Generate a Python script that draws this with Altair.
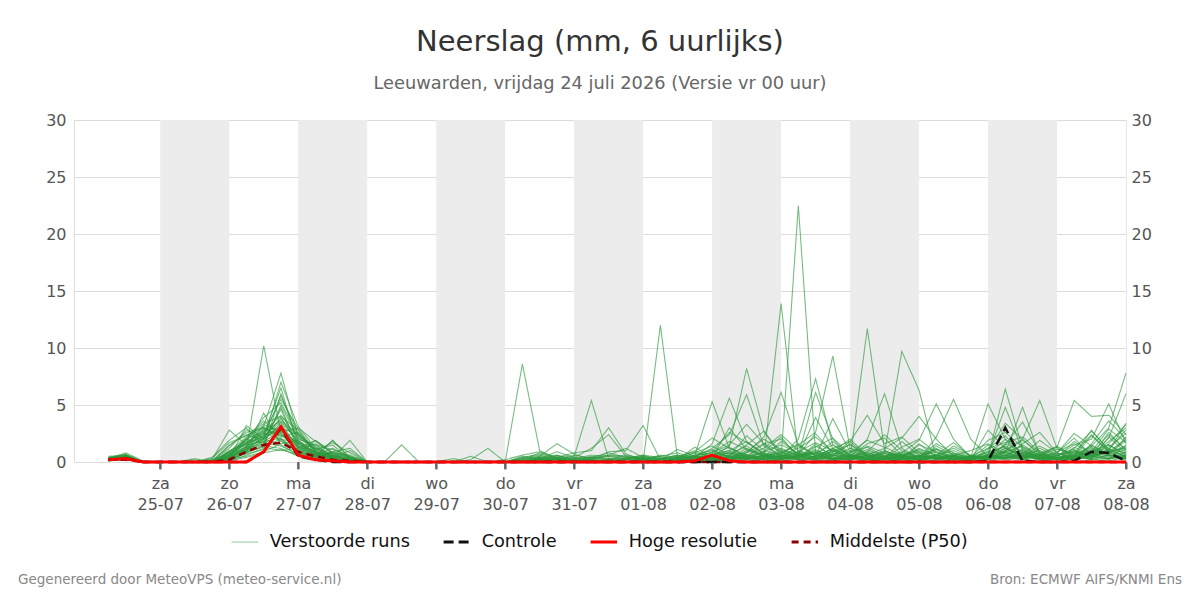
import altair as alt
import pandas as pd

# ---------------- data ----------------
# 6-hourly steps, first step 24-07-2026 06:00 UTC, 60 steps up to 08-08-2026 00:00
start = pd.Timestamp("2026-07-24T06:00:00Z")
n_steps = 60
times = [(start + pd.Timedelta(hours=6 * i)).strftime("%Y-%m-%dT%H:%M:%SZ") for i in range(n_steps)]

series_names = ["Verstoorde runs", "Controle", "Hoge resolutie", "Middelste (P50)"]

# perturbed ensemble members (mm per 6 h), 60 values each (4 blocks of 15)
m01 = [0.3,0.5,0,0,0,0,0,0.4,1.2,10.2,2.5,1.0,0.4,0.1,0] + [0,0,0,0,0,0,0,0,0,0.3,0.5,0.2,0,0.1,0] + [0,0,0.3,0,0.5,1.1,0.4,0.2,0,0.6,0.3,0.2,0,0,0.1] + [0,0.3,0,0,0.2,0,0.4,0.8,0.2,0,0.3,0.6,0.2,0.1,0.4]
m02 = [0.2,0.3,0,0,0,0,0.1,0.6,2.0,3.1,7.8,2.2,1.0,0.5,0.2] + [0,0,0,0,0,0,0,0,0,8.6,1.0,0.3,0.2,0,0] + [0,0,0.2,0.5,0.3,0.2,0,0.4,0,0.3,22.5,0.8,0.2,0,0] + [0.3,0,0.5,1.1,0.3,0.2,0,0,0.8,0.5,0.3,0,0.2,0.6,0.3]
m03 = [0.4,0.6,0,0,0,0,0.2,2.8,1.5,1.8,2.1,0.8,0.3,0,0] + [0,0,0,0,0,0,0.2,1.2,0,0,0.4,0.2,0,0,0] + [0.2,0,0,0.3,0.8,0.4,0.2,1.0,0.5,0,0.6,3.9,1.2,0.4,0] + [0.2,0.8,0.4,0,0,0.3,0.6,1.2,0.5,0.2,0,0.4,1.0,0.8,0.3]
m04 = [0.2,0.4,0,0,0,0,0,0.3,3.2,2.0,7.0,3.1,1.2,0.6,0.1] + [0,0,0,0,0,0,0,0,0,0.2,0.8,0.4,0,0,0.3] + [0.5,0.2,0,0,0,0.6,1.3,0.5,0.2,0.8,1.6,0.5,3.8,0.9,0.2] + [0,0.2,0.6,0.3,0.5,0,0.2,0.9,0.3,0,0.6,0.2,0.4,1.5,0.6]
m05 = [0.3,0.8,0.1,0,0,0,0,0.8,1.0,4.3,1.5,0.6,1.9,0.8,0.3] + [0,0,1.5,0,0,0,0,0,0,0,0.3,0.6,0.2,0,0] + [0,0.4,0,0,0.2,0.3,0,0.8,1.6,0.4,0.2,0,0.6,1.8,0.5] + [0.3,0,0.2,1.4,0.6,0.2,0,0.3,1.0,0.4,0.8,2.1,0.5,0.2,0.9]
m06 = [0.2,0.2,0,0,0,0,0,0.1,0.6,1.2,6.0,1.8,0.5,1.9,0.4] + [0,0,0,0,0,0,0,0,0,0.4,0.2,0,0,0,0] + [0,0,0,0.2,0.1,0,0.5,0.3,0.9,2.2,0.4,1.1,0.3,0.5,2.0] + [6.0,1.2,0.3,0,0.2,0.5,0.3,0.6,0.2,0,0.4,0.3,0.8,2.4,1.1]
m07 = [0.1,0.3,0,0,0,0,0,0.5,1.8,2.5,5.5,2.9,0.9,0.4,1.9] + [0,0,0,0,0,0,0,0,0,0,0,0.3,0.5,5.4,0.3] + [0,0,0,0.3,0.5,0.2,0,0,0.4,0.2,0.5,1.4,0.6,0.2,0.8] + [0.4,0.2,1.6,0.4,0.3,0.1,1.2,2.3,0.6,0.3,0.2,0.6,1.3,0.4,0.2]
m08 = [0.5,0.6,0,0,0,0.3,0,0.9,2.2,3.6,2.4,1.3,0.7,0.2,0] + [0,0,0,0,0,0,0.5,0,0,0,0.2,0.4,0,0,0] + [0,0,0,0,0,0.2,0.4,0.3,0.2,0.5,0.9,0.6,1.8,0.5,0.3] + [0.8,9.7,6.3,0.3,0,0.2,0.5,0.2,0.4,0.6,1.4,0.5,0.2,0.3,0.5]
m09 = [0.2,0.4,0,0,0,0,0,0.2,0.8,1.5,5.0,2.0,1.5,1.1,0.5] + [0,0,0,0,0,0,0,0,0,0,0.3,0.9,0.4,0.1,0] + [0,0,0,0.4,1.0,0.3,0.2,0.6,0.3,0.1,0,0.5,0.9,2.0,0.6] + [1.2,2.1,4.0,2.0,0.5,0.2,0,0.6,1.1,0.4,0.3,0.8,0.5,2.6,1.0]
m10 = [0.3,0.3,0,0,0,0,0.1,1.4,2.6,3.0,1.8,0.9,0.4,0.8,0.6] + [0,0,0,0,0,0.3,0,0,0,0,0.1,0.2,0,0.4,0.2] + [0,0.2,0,0,0.3,0.5,0.8,0.2,0.4,1.2,0.6,0.3,0.2,0.4,1.1] + [0.5,0.8,1.9,5.1,2.0,0.4,0.2,0.4,0.6,1.0,0.3,0.2,1.5,0.6,0.3]
m11 = [0.4,0.5,0,0,0,0,0,0.3,1.1,2.2,3.8,1.6,0.8,0.3,0.1] + [0,0,0,0,0,0,0,0,0,0,0.5,1.6,0.7,0.2,0] + [0,0,0,0.2,0.4,0.1,0.3,0.5,0.2,0,0.4,0.8,0.3,0.6,0.2] + [0.3,0.6,0.2,2.2,5.5,2.0,0.5,0.3,0.8,0.2,0.6,1.1,0.4,0.9,2.0]
m12 = [0.2,0.6,0,0,0,0.2,0,0.6,1.6,2.8,3.0,2.4,1.1,1.5,0.2] + [0,0,0,0,0,0,0,0,0,0,0,0.4,0.8,1.0,3.0] + [0.7,0.2,0,0,0,0.4,0.6,1.4,0.5,0.3,0.8,0.4,0.2,0.3,0.5] + [0.2,0.4,0.3,0.6,1.0,0.4,5.1,2.0,0.3,0.5,0.2,0.6,0.3,1.2,0.4]
m13 = [0.3,0.4,0,0,0,0,0.4,1.9,3.0,1.4,1.2,0.5,0.3,0.1,0] + [0,0,0,0,0,0,0,0,0,0.1,0.2,0,0.1,0.3,0.6] + [1.2,0.4,0,0.3,0.2,0,0.2,0.5,0.8,0.3,0.5,0.2,0.1,0.3,1.4] + [0.8,0.3,0.2,0.1,0.4,0.2,2.8,1.2,0.5,0.3,0.4,1.8,0.8,0.3,0.6]
m14 = [0.2,0.3,0,0,0,0,0,0.2,0.9,2.0,4.6,1.1,0.6,0.9,1.2] + [0,0,0,0,0,0,0,0,0,0,0,0,0,0.2,0.9] + [1.0,3.2,0.2,0,0.5,0.3,0.2,0.4,0.2,0.5,0.3,1.6,0.4,0.2,0.3] + [0.4,0.5,0.2,0.6,0.3,0.2,0.5,6.4,1.2,0.4,0.3,0.5,2.3,0.9,0.4]
m15 = [0.3,0.5,0,0,0,0,0,0.7,1.3,3.3,2.6,3.0,1.8,0.7,0.2] + [0,0,0,0,0,0,0,0,0,0,0,0,0.4,1.2,2.4] + [0.5,0.3,0,0,0.2,0.6,1.0,0.3,0.5,0.2,0.6,2.5,0.8,0.4,0.2] + [0.3,0.2,0.5,1.2,0.4,0.3,0.6,4.8,1.0,0.5,0.2,0.4,0.6,1.8,3.0]
m16 = [0.1,0.2,0,0,0,0,0,0.4,2.0,1.7,1.4,0.7,0.2,0.1,0] + [0,0,0,0,0,0,0,0,0,0,0,0.3,0,0,0] + [0,0,12.0,0.3,0,0.2,0.4,0.2,0.6,0.3,0.2,0.5,1.2,0.6,0.3] + [0.2,0.6,1.0,0.4,0.2,0.5,0.3,0.8,4.8,0.6,0.4,0.3,0.6,0.3,1.5]
m17 = [0.3,0.7,0,0,0,0,0,1.0,1.5,2.4,6.5,1.4,0.9,0.5,0.3] + [0,0,0,0,0,0,0,0,0,0.5,0.3,0,0,0,0] + [0,0,0.2,0.4,0.6,5.3,1.2,0.4,0.2,0.6,0.5,0.2,0.8,0.3,0.6] + [0.5,0.3,0.6,0.2,0.4,0.2,0.6,1.5,3.5,0.8,0.2,0.5,0.3,2.2,0.8]
m18 = [0.2,0.4,0,0,0,0,0.2,0.5,1.0,2.9,2.2,2.6,1.0,1.7,0.8] + [0,0,0,0,0,0,0,0,0,0,0,0,0.2,0.4,0.2] + [0.3,0.2,0.5,0.8,0.4,1.6,5.6,1.8,0.6,0.3,0.5,0.3,1.0,0.4,0.2] + [0.3,1.8,0.6,0.2,0.5,0.3,0.2,1.0,2.0,5.4,1.2,0.4,0.8,0.5,0.3]
m19 = [0.4,0.3,0,0,0,0,0,1.5,2.4,1.9,3.4,1.2,0.5,0.2,0] + [0,0,0,0,0,0,0,0,0,0,0,0,0,0,0.2] + [0.2,0.5,0.3,0.2,1.3,0.4,3.0,1.1,0.5,0.2,0.6,0.8,0.3,0.2,0.4] + [1.0,0.4,0.2,0.3,0.6,0.4,0.2,0.5,1.6,2.6,0.8,0.3,1.1,0.6,2.2]
m20 = [0.2,0.5,0,0,0,0,0,0.3,0.7,1.1,2.8,0.5,0.2,0.1,0] + [0,0,0,0,0,0,0,0,0,0,0,0,0,0,0] + [0,0,0,0.4,0.3,0.5,1.4,8.2,2.7,0.5,0.2,0.3,0.6,0.4,0.2] + [0.2,0.5,0.3,0.6,0.2,0.3,0.5,0.4,0.2,0.6,1.3,5.4,4.0,4.1,2.4]
m21 = [0.3,0.6,0,0,0,0,0,0.9,1.9,3.9,5.2,2.3,1.4,0.6,0.1] + [0,0,0,0,0,0,0,0,0,0.2,0.4,0.1,0,0,0] + [0,0,0,0.2,0.5,1.2,2.4,5.9,1.4,0.6,0.3,0.2,0.5,1.6,0.4] + [0.3,0.2,0.6,0.4,0.2,0.6,0.3,1.2,0.5,0.2,0.4,0.6,2.8,1.0,3.4]
m22 = [0.2,0.3,0,0,0,0,0,0.2,0.5,0.9,1.6,1.9,0.8,0.4,1.0] + [0,0,0,0,0,0,0,0,0,0,0.2,0,0,0,0] + [0,0.3,0,0.2,0.6,0.8,1.5,3.3,1.6,2.0,0.6,0.4,0.3,0.2,0.6] + [0.4,0.3,0.2,0.5,0.6,0.2,0.4,0.6,0.3,1.2,0.5,1.5,2.0,5.1,1.6]
m23 = [0.3,0.4,0,0,0,0,0.1,1.2,2.8,2.1,3.0,1.5,0.6,1.2,0.4] + [0,0,0,0,0,0,0,0,0,0,0,0,0.3,0.6,0.5] + [0.3,0.5,0.2,1.1,0.5,0.3,0.6,1.5,2.7,0.8,0.3,0.5,0.2,0.6,0.3] + [0.5,0.2,0.4,0.3,1.4,0.6,0.3,0.9,0.4,0.6,0.3,0.2,1.6,3.6,2.0]
m24 = [0.1,0.3,0,0,0,0,0,0.3,1.4,2.6,1.9,1.0,1.6,0.3,0] + [0,0,0,0,0,0,0,0,0,0,0,0,0,0,0] + [0,0,0,0,0.2,0.4,0.3,0.6,0.3,13.9,0.4,0.8,0.5,0.2,0.6] + [0.3,0.2,0.5,0.3,0.6,0.2,0.4,0.6,0.3,0.5,0.8,2.5,1.4,3.0,7.8]
m25 = [0.3,0.5,0,0,0,0,0,0.6,2.1,3.4,4.0,2.8,0.7,0.2,0.1] + [0,0,0,0,0,0,0,0,0,0,0,0,0,0,0.1] + [0.2,0.3,0,0.2,0.4,0.6,0.3,0.8,2.2,6.1,1.5,0.6,0.3,0.4,0.2] + [0.5,0.6,0.2,0.4,0.3,0.2,0.6,0.4,0.8,0.3,0.6,1.0,0.5,2.1,6.0]
m26 = [0.2,0.4,0,0,0,0,0,0.1,0.4,0.8,1.1,0.6,0.3,0.9,0.5] + [0,0,0,0,0,0,0,0,0,0,0.3,0,0,0,0] + [0,0,0,0,0.2,0.3,0.5,0.2,0.6,0.5,2.0,7.3,1.5,0.6,0.3] + [0.2,0.4,1.2,0.6,0.3,0.2,0.4,0.3,0.6,0.4,0.2,1.3,0.6,1.1,2.8]
m27 = [0.4,0.6,0,0,0,0,0.3,1.7,2.3,3.1,2.0,1.7,1.2,0.6,0.2] + [0,0,0,0,0,0,0,0,0,0,0,0,0,0,0] + [0,0,0,0.3,0.2,0.5,0.8,0.4,0.3,1.0,0.6,6.1,2.0,0.5,1.6] + [2.1,0.6,0.3,0.5,0.2,0.3,1.5,0.5,0.3,0.8,0.3,0.6,0.4,0.9,1.2]
m28 = [0.2,0.3,0,0,0,0,0,0.4,1.2,1.6,2.5,0.9,0.5,1.9,0.3] + [0,0,0,0,0,0,0,0,0,0,0,0,0,0,0] + [0,0,0,0,0.3,0.2,0.4,0.6,0.5,0.8,1.5,2.6,9.3,1.2,0.5] + [0.3,0.5,0.2,0.4,0.6,0.2,0.5,0.3,0.6,0.2,0.4,0.5,0.3,0.6,0.4]
m29 = [0.3,0.4,0,0,0,0,0,0.8,1.7,2.2,5.8,2.5,0.9,0.4,0.1] + [0,0,0,0,0,0,0,0,0,0,0,0,0,0,0] + [0,0,0,0,0,0.3,0.2,0.5,0.4,0.2,0.6,0.3,1.0,0.3,11.7] + [1.0,0.4,0.2,0.3,0.2,0.5,0.3,1.0,0.6,0.3,0.2,0.4,0.5,0.3,0.6]
m30 = [0.2,0.5,0,0,0,0,0,0.5,0.9,1.3,1.0,1.2,1.9,0.8,0.4] + [0,0,0,0,0,0,0,0,0,0,0,0,0,0,0] + [0,0,0,0,0.2,0.4,0.2,0.3,0.6,0.4,0.3,0.5,1.2,1.8,4.1] + [1.6,2.2,0.8,0.3,0.5,0.2,0.6,0.4,1.5,0.6,0.3,0.2,0.5,1.0,0.6]
m31 = [0.3,0.4,0,0,0,0,0,0.6,1.4,2.3,3.5,1.9,0.8,0.3,0.1] + [0,0,0,0,0,0,0,0,0,0,0.2,0.5,0.3,0.4,0.8] + [0.4,0.3,0.2,0.5,0.9,2.1,1.2,0.6,0.4,1.8,0.7,0.5,1.1,0.4,0.9] + [2.4,1.0,0.5,0.3,0.8,0.4,1.9,2.6,1.3,0.5,0.9,1.6,0.7,1.3,2.5]
m32 = [0.2,0.5,0,0,0,0,0,0.4,1.1,1.8,2.7,1.4,0.6,0.5,0.2] + [0,0,0,0,0,0,0,0,0,0.3,0.6,0.2,0,0,0.2] + [0.3,0.6,0.4,0.2,0.3,0.9,2.6,1.7,0.8,0.5,1.2,2.2,0.9,1.5,0.6] + [0.4,1.3,2.0,0.8,0.3,0.2,1.0,3.4,2.0,0.6,1.1,0.8,2.4,0.9,1.3]
m33 = [0.3,0.3,0,0,0,0,0.1,0.9,1.7,2.6,4.1,2.1,1.3,0.4,0.2] + [0,0,0,0,0,0,0,0,0,0,0,0.2,0.4,0.2,0] + [0,0.2,0.6,0.4,0.2,0.7,0.5,2.3,1.0,0.6,0.4,1.3,2.1,0.7,0.4] + [0.9,0.5,1.1,0.6,1.7,0.5,0.8,1.4,0.6,1.9,0.8,0.3,0.9,2.9,1.7]
m34 = [0.2,0.4,0,0,0,0,0,0.5,1.3,2.0,3.2,1.0,0.5,0.2,0] + [0,0,0,0,0,0,0,0,0.2,0.6,0.9,0.4,0.2,0,0] + [0,0,0,0.2,0.6,1.0,0.4,0.9,2.0,1.1,0.6,0.9,0.5,1.2,0.8] + [0.5,0.9,0.4,1.6,0.8,0.3,0.6,2.0,0.8,0.4,0.5,1.2,2.7,1.1,0.8]
m35 = [0.4,0.5,0,0,0,0,0,0.3,0.9,2.4,2.9,1.6,0.9,0.6,0.3] + [0,0,0,0,0,0,0,0,0,0,0.1,0.3,0.6,0.3,0.1] + [0.2,0.4,0.3,0.6,0.2,0.4,0.9,0.6,1.2,2.4,1.0,0.6,0.3,0.8,1.9] + [1.3,0.6,0.9,0.4,0.6,1.0,1.6,0.7,0.5,1.4,0.6,0.9,0.5,1.6,3.3]
m36 = [0.2,0.3,0,0,0,0,0,0.7,1.6,3.0,2.3,1.8,0.7,0.3,0.1] + [0,0,0,0,0,0,0,0,0,0.1,0.4,0.2,0,0.2,0.5] + [0.6,0.3,0.1,0.2,0.5,0.8,1.8,1.1,0.6,0.4,0.9,1.7,1.0,0.5,0.7] + [0.6,0.4,1.5,0.9,0.3,0.5,1.2,1.7,2.2,0.9,0.4,0.6,1.4,0.7,1.9]
m37 = [0.3,0.6,0,0,0,0,0,0.4,1.0,1.6,4.8,1.3,0.6,0.4,0.2] + [0,0,0,0,0,0,0,0,0,0,0,0,0.2,0.5,0.3] + [0.3,0.6,0.2,0.4,0.8,1.4,0.6,0.4,1.6,0.9,0.5,0.8,1.5,0.6,0.3] + [0.8,0.6,0.3,1.1,0.7,0.4,0.5,1.0,1.9,0.8,1.3,0.6,0.9,1.5,0.7]
m38 = [0.2,0.4,0,0,0,0,0,0.2,0.8,1.4,2.0,0.8,0.4,0.6,0.3] + [0,0,0,0,0,0,0,0,0,0.2,0.3,0.6,0.2,0.1,0] + [0,0.3,0.5,0.2,0.3,0.6,1.0,1.8,0.7,0.4,1.4,0.6,0.3,0.9,1.3] + [0.5,0.3,0.6,0.9,0.4,0.2,0.9,1.3,0.5,0.7,0.3,1.0,0.6,0.8,1.4]
m39 = [0.3,0.5,0,0,0,0,0,0.8,2.0,2.7,3.6,2.4,1.1,0.5,0.2] + [0,0,0,0,0,0,0,0,0,0,0.2,0.3,0.1,0.3,0.6] + [0.4,0.2,0,0.3,0.4,0.3,0.8,0.5,0.9,1.5,0.8,0.4,0.7,1.0,0.5] + [0.3,0.7,0.4,0.6,1.2,0.5,0.3,1.6,0.9,0.4,0.7,0.5,1.2,0.6,1.1]
m40 = [0.2,0.3,0,0,0,0,0,0.5,1.2,2.1,3.9,1.7,0.7,0.8,0.4] + [0,0,0,0,0,0,0,0,0,0.4,0.7,0.3,0,0,0] + [0,0.2,0.3,0.6,0.4,0.5,0.3,1.2,0.6,0.8,0.5,1.0,0.6,0.4,0.9] + [0.7,0.5,0.8,0.3,0.5,0.4,0.7,0.9,1.4,0.5,0.3,0.8,0.6,1.0,0.5]
members = [m01, m02, m03, m04, m05, m06, m07, m08, m09, m10, m11, m12, m13, m14, m15, m16, m17, m18, m19, m20,
           m21, m22, m23, m24, m25, m26, m27, m28, m29, m30, m31, m32, m33, m34, m35, m36, m37, m38, m39, m40]

controle = [0.2,0.3,0,0,0,0,0,0,0,0.9,3.0,0.5,0.2,0,0] + [0]*15 + [0]*15 + [0,0,0,0,0,0,0.1,3.0,0.1,0,0,0.1,0.9,0.8,0.1]
hoge_resolutie = [0.2,0.3,0,0,0,0,0,0,0,0.9,3.1,0.6,0.2,0.1,0] + [0]*15 + [0,0,0,0,0.1,0.6,0.1,0,0,0,0,0,0,0,0] + [0]*15
mediaan = [0.2,0.2,0,0,0,0,0,0.2,0.9,1.5,1.7,0.9,0.5,0.2,0.1] + [0]*15 + [0]*15 + [0]*15

# alternate days shaded
band_start = ["2026-07-25T00:00:00Z", "2026-07-27T00:00:00Z", "2026-07-29T00:00:00Z", "2026-07-31T00:00:00Z",
              "2026-08-02T00:00:00Z", "2026-08-04T00:00:00Z", "2026-08-06T00:00:00Z"]
band_end = ["2026-07-26T00:00:00Z", "2026-07-28T00:00:00Z", "2026-07-30T00:00:00Z", "2026-08-01T00:00:00Z",
            "2026-08-03T00:00:00Z", "2026-08-05T00:00:00Z", "2026-08-07T00:00:00Z"]

tick_days = [(7, d) for d in range(25, 32)] + [(8, d) for d in range(1, 9)]
tick_dates = [f"2026-{m:02d}-{d:02d}T00:00:00Z" for m, d in tick_days]
y_ticks = [0, 5, 10, 15, 20, 25, 30]

# ---------------- frames ----------------
rows = []
for k, vals in enumerate(members):
    assert len(vals) == n_steps
    for t, v in zip(times, vals):
        rows.append({"run": f"lid{k + 1:02d}", "serie": series_names[0], "t": t, "v": v})
df_members = pd.DataFrame(rows)
df_ctrl = pd.DataFrame({"t": times, "v": controle, "serie": series_names[1]})
df_hres = pd.DataFrame({"t": times, "v": hoge_resolutie, "serie": series_names[2]})
df_med = pd.DataFrame({"t": times, "v": mediaan, "serie": series_names[3]})
df_bands = pd.DataFrame({"a": band_start, "b": band_end})
df_ticks = pd.DataFrame({"d": tick_dates})

FONT = "DejaVu Sans"

x_scale = alt.Scale(type="utc", domain=[alt.DateTime(year=2026, month=7, date=23, hours=18, utc=True),
                                        alt.DateTime(year=2026, month=8, date=8, hours=0, utc=True)])
x_axis = alt.Axis(
    values=[alt.DateTime(year=2026, month=m, date=d, utc=True) for m, d in tick_days],
    labelExpr="[['zo','ma','di','wo','do','vr','za'][utcday(datum.value)], utcFormat(datum.value, '%d-%m')]",
    labelFont=FONT, labelFontSize=16, labelColor="#555555", labelLineHeight=21,
    labelOverlap=False, labelBound=False, labelFlush=False,
    ticks=True, tickColor="#666666", tickOpacity=1, tickSize=7, tickWidth=2, labelPadding=6,
    domain=False, grid=False, title=None, zindex=2,
)
y_scale = alt.Scale(domain=[0, 30], nice=False, zero=True)
y_axis_left = alt.Axis(values=y_ticks, labelFont=FONT, labelFontSize=16, labelColor="#555555",
                       domain=False, ticks=False, grid=True, gridColor="#dcdcdc", gridWidth=1,
                       labelPadding=8, title=None, orient="left")
y_axis_right = alt.Axis(values=y_ticks, labelFont=FONT, labelFontSize=16, labelColor="#555555",
                        domain=True, domainColor="#e6e6e6", ticks=False, grid=False,
                        labelPadding=5, title=None, orient="right")

color_scale = alt.Scale(domain=series_names, range=["#2e9a3e", "#111111", "#ff0000", "#8b0000"])
dash_scale = alt.Scale(domain=series_names, range=[[1, 0], [10, 5], [1, 0], [7, 5]])
legend = alt.Legend(
    title=None, orient="none", legendX=162, legendY=413, direction="horizontal",
    symbolType="stroke", symbolSize=700,
    symbolStrokeWidth={"expr": "datum.value == 'Verstoorde runs' ? 1 : 3"},
    symbolOpacity={"expr": "datum.value == 'Verstoorde runs' ? 0.6 : 1"},
    labelFont=FONT, labelFontSize=17.7, labelColor="#111111", labelOffset=16, columnPadding=27,
)

col = alt.Color("serie:N", scale=color_scale, legend=legend)
dash = alt.StrokeDash("serie:N", scale=dash_scale, legend=legend)
xenc = alt.X("t:T", scale=x_scale, axis=x_axis)

bands = alt.Chart(df_bands).mark_rect(color="#ececec").encode(
    x=alt.X("a:T", scale=x_scale, axis=x_axis), x2="b:T")

# day tick marks just below the plot area (not clipped)
day_ticks = alt.Chart(df_ticks).mark_rule(color="#666666", strokeWidth=2, clip=False).encode(
    x=alt.X("d:T", scale=x_scale, axis=x_axis),
    y=alt.value(342), y2=alt.value(349),
)

lines_members = alt.Chart(df_members).mark_line(strokeWidth=1.1, opacity=0.65).encode(
    x=xenc, y=alt.Y("v:Q", scale=y_scale, axis=y_axis_left),
    color=col, strokeDash=dash, detail="run:N",
)
line_med = alt.Chart(df_med).mark_line(strokeWidth=2.5).encode(
    x=xenc, y=alt.Y("v:Q", scale=y_scale, axis=None), color=col, strokeDash=dash)
line_ctrl = alt.Chart(df_ctrl).mark_line(strokeWidth=2.5).encode(
    x=xenc, y=alt.Y("v:Q", scale=y_scale, axis=None), color=col, strokeDash=dash)
line_hres = alt.Chart(df_hres).mark_line(strokeWidth=3).encode(
    x=xenc, y=alt.Y("v:Q", scale=y_scale, axis=y_axis_right), color=col, strokeDash=dash)

footer_left = alt.Chart(pd.DataFrame({"txt": ["Gegenereerd door MeteoVPS (meteo-service.nl)"]})).mark_text(
    align="left", baseline="middle", font=FONT, fontSize=13.5, color="#888888"
).encode(text="txt:N", x=alt.value(-56), y=alt.value(460))
footer_right = alt.Chart(pd.DataFrame({"txt": ["Bron: ECMWF AIFS/KNMI Ens"]})).mark_text(
    align="right", baseline="middle", font=FONT, fontSize=13.5, color="#888888"
).encode(text="txt:N", x=alt.value(1108), y=alt.value(460))

chart = alt.layer(
    bands, day_ticks, lines_members, line_med, line_ctrl, line_hres, footer_left, footer_right
).resolve_axis(y="independent").properties(
    width=1052, height=342,
    autosize=alt.AutoSizeParams(type="none"),
    padding={"left": 74, "top": 120, "right": 74, "bottom": 138},
    title=alt.TitleParams(
        text="Neerslag (mm, 6 uurlijks)",
        subtitle="Leeuwarden, vrijdag 24 juli 2026 (Versie vr 00 uur)",
        font=FONT, fontSize=29, fontWeight="normal", color="#333333",
        subtitleFont=FONT, subtitleFontSize=17.8, subtitleColor="#666666",
        anchor="middle", offset=19, subtitlePadding=18,
    ),
).configure_view(stroke=None).configure(background="white")

chart.save("out.html", embed_options={"renderer": "svg", "actions": False})
